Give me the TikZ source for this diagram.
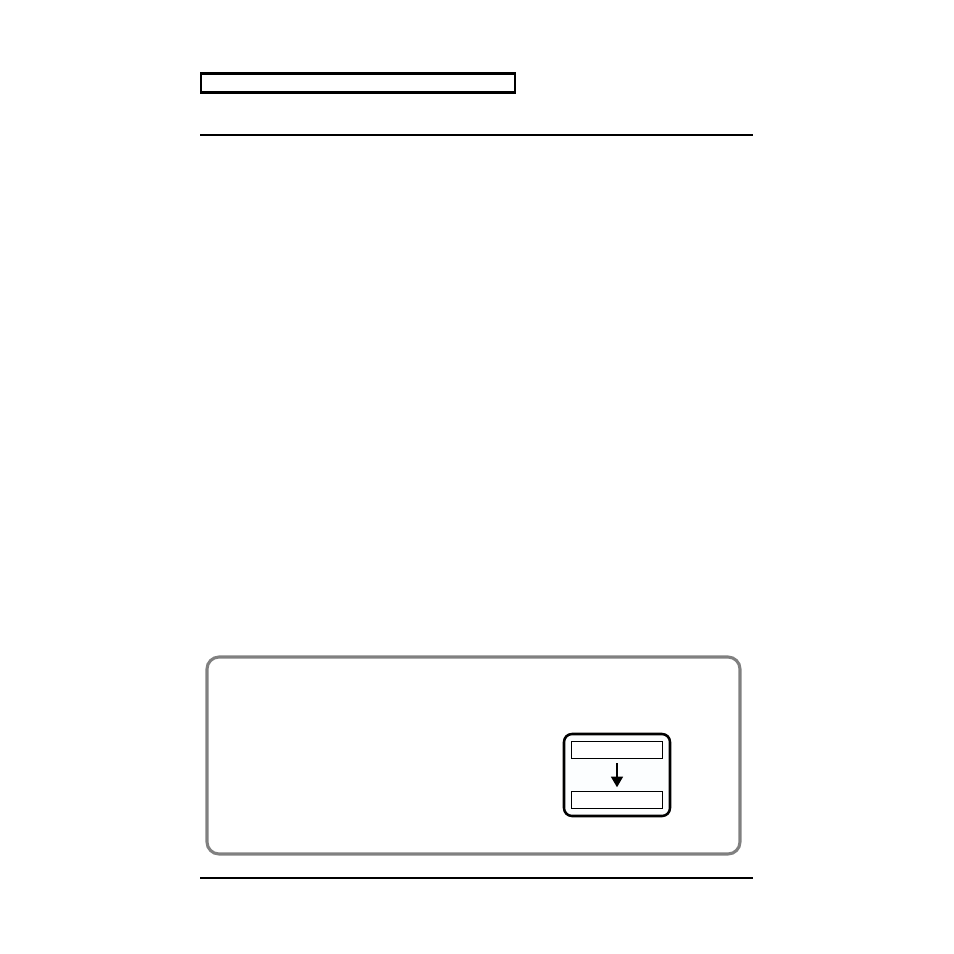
\documentclass[tikz,border=0pt]{standalone}
\usetikzlibrary{arrows.meta}
\begin{document}
\begin{tikzpicture}[x=0.75pt,y=-0.75pt,
  frame/.style={draw=black,line width=1.9pt},
  rule/.style={draw=black,line width=1.5pt},
  panel/.style={draw=black!50,line width=2.3pt,rounded corners=9pt},
  screen/.style={draw=black,line width=1.9pt,rounded corners=6pt,fill=cyan!1},
  field/.style={draw=black,line width=0.7pt,fill=white,minimum width=68.25pt,minimum height=12.4pt,inner sep=0pt}]
\useasboundingbox (0,0) rectangle (954,954);
\fill[white] (0,0) rectangle (954,954);
\node[frame,fill=white,minimum width=235.5pt,minimum height=14.6pt,inner sep=0pt,anchor=north west] (titlebox) at (199.5,72) {};
\coordinate (r1a) at (200,135); \coordinate (r1b) at (753,135);
\draw[rule] (r1a) -- (r1b);
\coordinate (r2a) at (200,878); \coordinate (r2b) at (753,878);
\draw[rule] (r2a) -- (r2b);
\draw[panel] (207,657) rectangle (740,854);
\draw[screen] (564,734) rectangle (670,816);
\node[field] (f1) at (617,750) {};
\node[field] (f2) at (617,800) {};
\draw[line width=1.3pt,-{Triangle[length=8pt,width=9pt]}] ([yshift=-3.5pt]f1.south) -- ([yshift=3pt]f2.north);
\end{tikzpicture}
\end{document}
